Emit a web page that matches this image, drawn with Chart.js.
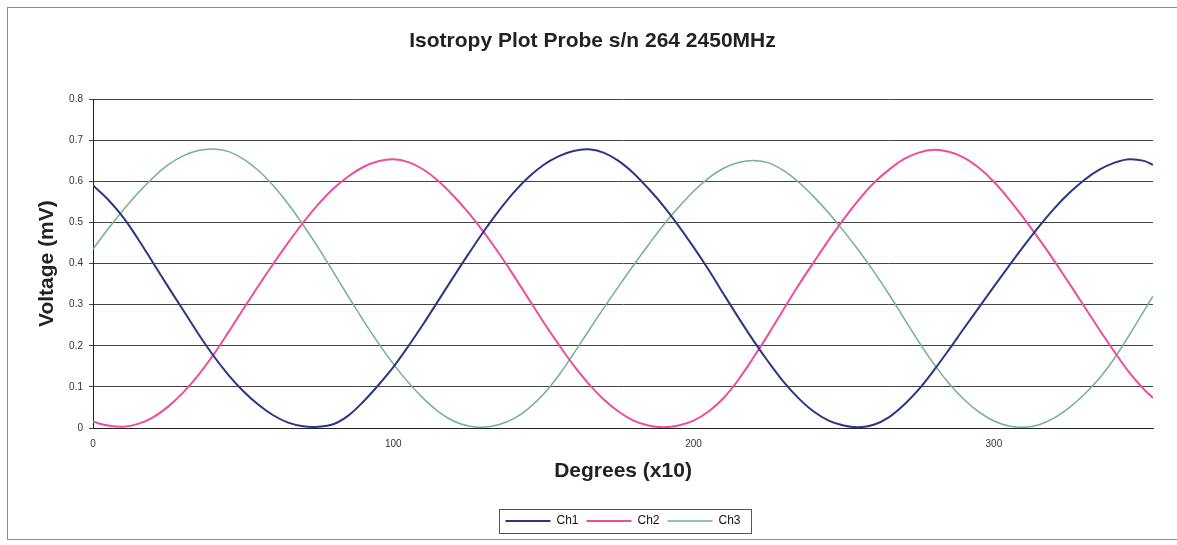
<!DOCTYPE html>
<html>
<head>
<meta charset="utf-8">
<title>Isotropy Plot Probe s/n 264 2450MHz</title>
<script src="https://cdn.jsdelivr.net/npm/chart.js@4.4.1/dist/chart.umd.min.js"></script>
<style>
  body { margin: 0; background: #fff; }
  #wrap { position: relative; width: 1177px; height: 545px; }
  #frame {
    position: absolute; left: 7px; top: 7px; width: 1190px; height: 533px;
    border: 1px solid #8c8c8c; box-sizing: border-box; pointer-events: none;
  }
</style>
</head>
<body>
<div id="wrap">
  <canvas id="isoChart"></canvas>
  <div id="frame"></div>
</div>
<script>
// x positions (degrees x10), read every 5 units
const degrees = [
  0, 5, 10, 15, 20, 25, 30, 35, 40, 45, 50, 55, 60, 65, 70, 75, 80, 85, 90, 95,
  100, 105, 110, 115, 120, 125, 130, 135, 140, 145, 150, 155, 160, 165, 170, 175,
  180, 185, 190, 195, 200, 205, 210, 215, 220, 225, 230, 235, 240, 245, 250, 255,
  260, 265, 270, 275, 280, 285, 290, 295, 300, 305, 310, 315, 320, 325, 330, 335,
  340, 345, 350, 353
];

const ch1 = [
  0.590, 0.556, 0.513, 0.460, 0.402, 0.344, 0.287, 0.230, 0.177, 0.130, 0.090, 0.057,
  0.031, 0.013, 0.004, 0.003, 0.009, 0.030, 0.064, 0.104, 0.148, 0.199, 0.253, 0.310,
  0.367, 0.423, 0.477, 0.527, 0.572, 0.610, 0.640, 0.661, 0.674, 0.678, 0.670, 0.650,
  0.620, 0.582, 0.540, 0.492, 0.440, 0.385, 0.326, 0.268, 0.212, 0.160, 0.112, 0.072,
  0.040, 0.018, 0.006, 0.002, 0.008, 0.026, 0.056, 0.094, 0.140, 0.190, 0.242, 0.293,
  0.344, 0.394, 0.443, 0.490, 0.533, 0.571, 0.603, 0.628, 0.645, 0.654, 0.650, 0.640
];

const ch2 = [
  0.015, 0.006, 0.003, 0.010, 0.026, 0.052, 0.086, 0.128, 0.177, 0.232, 0.289, 0.345,
  0.399, 0.451, 0.500, 0.544, 0.582, 0.612, 0.635, 0.649, 0.654, 0.647, 0.629, 0.601,
  0.565, 0.524, 0.478, 0.427, 0.372, 0.315, 0.258, 0.204, 0.153, 0.108, 0.070, 0.040,
  0.018, 0.006, 0.002, 0.006, 0.018, 0.040, 0.073, 0.118, 0.172, 0.229, 0.289, 0.348,
  0.403, 0.457, 0.508, 0.555, 0.596, 0.628, 0.654, 0.670, 0.677, 0.672, 0.658, 0.633,
  0.599, 0.557, 0.510, 0.460, 0.408, 0.353, 0.297, 0.241, 0.187, 0.136, 0.094, 0.073
];

const ch3 = [
  0.435, 0.484, 0.530, 0.572, 0.609, 0.640, 0.662, 0.675, 0.679, 0.673, 0.655, 0.627,
  0.590, 0.545, 0.494, 0.439, 0.380, 0.320, 0.262, 0.207, 0.156, 0.111, 0.072, 0.040,
  0.017, 0.005, 0.002, 0.008, 0.022, 0.047, 0.082, 0.127, 0.180, 0.236, 0.291, 0.344,
  0.396, 0.446, 0.494, 0.537, 0.576, 0.608, 0.632, 0.646, 0.651, 0.645, 0.626, 0.598,
  0.563, 0.523, 0.479, 0.432, 0.381, 0.326, 0.268, 0.210, 0.156, 0.109, 0.070, 0.039,
  0.017, 0.005, 0.002, 0.008, 0.024, 0.049, 0.081, 0.120, 0.168, 0.225, 0.285, 0.321
];

const seriesNames = ['Ch1', 'Ch2', 'Ch3'];
const seriesColors = ['#2b3784', '#ec4f98', '#6fb391'];
const seriesWidths = [2, 2, 1.5];
const xTicks = [0, 100, 200, 300];

Chart.defaults.font.family = "'Liberation Sans', Arial, sans-serif";
Chart.defaults.color = '#222';

const toPoints = vals => degrees.map((d, i) => ({ x: d, y: vals[i] }));

// draws the thin box round the legend
const legendFrame = {
  id: 'legendFrame',
  afterDraw(chart) {
    const boxes = chart.legend.legendHitBoxes;
    if (!boxes || !boxes.length) return;
    const left = Math.min(...boxes.map(b => b.left));
    const right = Math.max(...boxes.map(b => b.left + b.width));
    const top = Math.min(...boxes.map(b => b.top));
    const bottom = Math.max(...boxes.map(b => b.top + b.height));
    const ctx = chart.ctx;
    ctx.save();
    ctx.strokeStyle = '#555';
    ctx.lineWidth = 1;
    ctx.strokeRect(Math.round(left - 6) + 0.5, Math.round(top - 6) + 0.5,
                   Math.round(right - left + 17), Math.round(bottom - top + 12));
    ctx.restore();
  }
};

const ctx = document.getElementById('isoChart');
new Chart(ctx, {
  type: 'line',
  data: {
    datasets: [ch1, ch2, ch3].map((vals, i) => ({
      label: seriesNames[i],
      data: toPoints(vals),
      borderColor: seriesColors[i],
      backgroundColor: seriesColors[i],
      borderWidth: seriesWidths[i],
      pointRadius: 0,
      tension: 0.35,
      fill: false
    }))
  },
  options: {
    responsive: true,
    maintainAspectRatio: false,
    animation: false,
    layout: { padding: { left: 8, right: 0, top: 0, bottom: 8 } },
    plugins: {
      title: {
        display: true,
        text: 'Isotropy Plot Probe s/n 264 2450MHz',
        font: { size: 21, weight: 'bold' },
        color: '#222',
        padding: { top: 29, bottom: 45 }
      },
      legend: {
        position: 'bottom',
        fullSize: false,
        labels: {
          boxWidth: 45,
          boxHeight: 0,
          padding: 8,
          font: { size: 12 },
          color: '#111'
        }
      },
      tooltip: { enabled: false }
    },
    scales: {
      x: {
        type: 'linear',
        min: 0,
        max: 353,
        afterBuildTicks: scale => {
          scale.ticks = xTicks.map(v => ({ value: v }));
        },
        afterFit: scale => { scale.height = 79; },
        grid: { display: false, tickLength: 5 },
        border: { color: '#222', width: 1 },
        ticks: { font: { size: 10 }, color: '#333', padding: 5, maxRotation: 0 },
        title: {
          display: true,
          text: 'Degrees (x10)',
          font: { size: 21, weight: 'bold' },
          color: '#222',
          padding: { top: 0, bottom: 23 }
        }
      },
      y: {
        min: 0,
        max: 0.8,
        afterFit: scale => { scale.width = 85; },
        grid: { color: '#444', lineWidth: 1, tickLength: 4 },
        border: { color: '#222', width: 1 },
        ticks: {
          stepSize: 0.1,
          font: { size: 10 },
          color: '#333',
          padding: 6,
          callback: v => (v === 0 ? '0' : v.toFixed(1))
        },
        title: {
          display: true,
          text: 'Voltage (mV)',
          font: { size: 21, weight: 'bold' },
          color: '#222',
          padding: { top: 27, bottom: 0 }
        }
      },
      // empty right-hand strip so the plot ends where the reference does
      spacer: {
        position: 'right',
        display: true,
        afterFit: scale => { scale.width = 24; },
        grid: { display: false, drawTicks: false },
        border: { display: false },
        ticks: { display: false }
      }
    }
  },
  plugins: [legendFrame]
});
</script>
</body>
</html>
